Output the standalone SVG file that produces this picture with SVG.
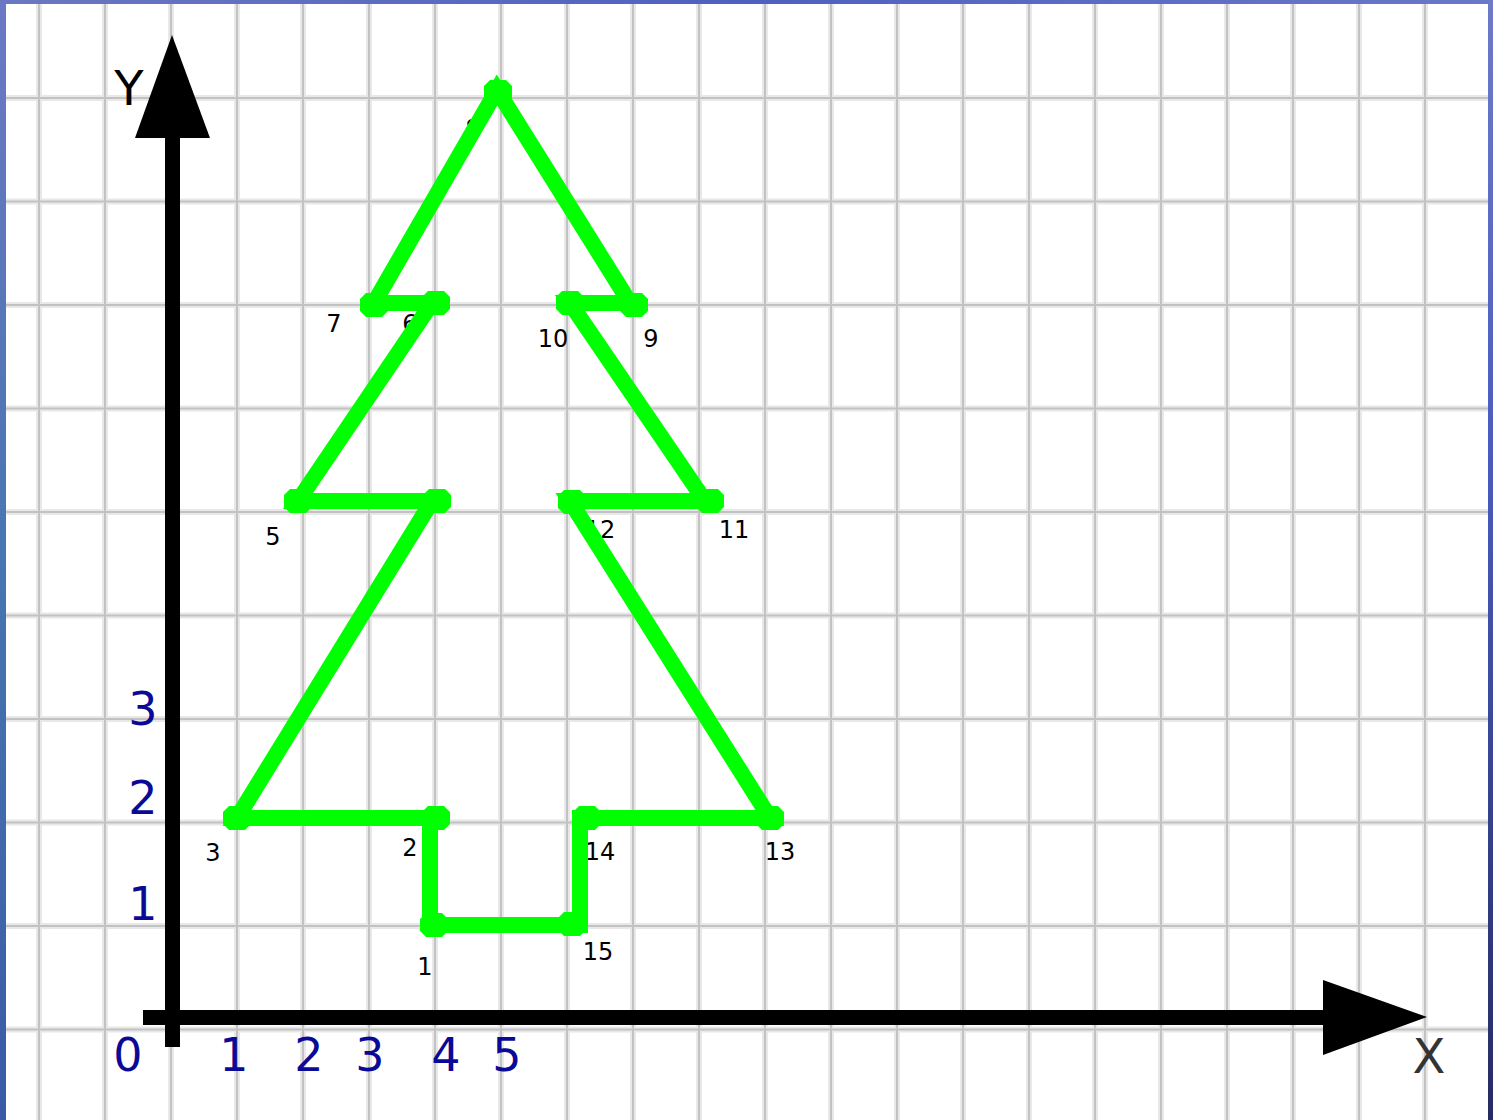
<svg xmlns="http://www.w3.org/2000/svg" width="1493" height="1120" viewBox="0 0 1493 1120">
<style>
.gh{stroke:#e8e8e8;stroke-width:6}
.gc{stroke:#c2c2c2;stroke-width:2}
.ax{fill:#000}
.num{font-family:"DejaVu Sans",Verdana,sans-serif;font-size:46px;fill:#0a0a96;text-anchor:middle}
.lab{font-family:"DejaVu Sans",Verdana,sans-serif;font-size:24px;fill:#000;text-anchor:middle}
.axl{font-family:"DejaVu Sans",Verdana,sans-serif;font-size:48px;text-anchor:middle}
.tree{fill:none;stroke:#00ff00;stroke-width:16;stroke-linejoin:miter;stroke-linecap:butt}
.v{fill:#00ff00}
</style>
<defs>
<linearGradient id="lb" x1="0" y1="0" x2="0" y2="1">
<stop offset="0" stop-color="#6c78c4"/><stop offset="0.5" stop-color="#4776b0"/><stop offset="1" stop-color="#3a5aa6"/>
</linearGradient>
<linearGradient id="rb" x1="0" y1="0" x2="0" y2="1">
<stop offset="0" stop-color="#6e7ac8"/><stop offset="0.4" stop-color="#4a5cc0"/><stop offset="1" stop-color="#252b62"/>
</linearGradient>
<linearGradient id="tb" x1="0" y1="0" x2="1" y2="0">
<stop offset="0" stop-color="#6a78c0"/><stop offset="0.5" stop-color="#5060c0"/><stop offset="1" stop-color="#6a78c8"/>
</linearGradient>
<polygon id="oct" points="-14,-6 -8,-12 8,-12 14,-6 14,6 8,12 -8,12 -14,6"/>
</defs>
<g id="background">
<rect x="0" y="0" width="1493" height="1120" fill="url(#tb)"/>
<rect x="0" y="0" width="7" height="1120" fill="url(#lb)"/>
<rect x="1487" y="0" width="6" height="1120" fill="url(#rb)"/>
<rect x="6" y="4" width="1482" height="1116" fill="#ffffff"/>
</g>
<g id="grid">
<g class="gh">
<path d="M39 4V1120M105 4V1120M171 4V1120M237 4V1120M303 4V1120M369 4V1120M435 4V1120M501 4V1120M567 4V1120M633 4V1120M699 4V1120M765 4V1120M831 4V1120M897 4V1120M963 4V1120M1029 4V1120M1095 4V1120M1161 4V1120M1227 4V1120M1293 4V1120M1359 4V1120M1425 4V1120"/>
<path d="M6 98H1488M6 201.5H1488M6 305H1488M6 408.5H1488M6 512H1488M6 615.5H1488M6 719H1488M6 822.5H1488M6 926H1488M6 1029.5H1488"/>
</g>
<g class="gc">
<path d="M39 4V1120M105 4V1120M171 4V1120M237 4V1120M303 4V1120M369 4V1120M435 4V1120M501 4V1120M567 4V1120M633 4V1120M699 4V1120M765 4V1120M831 4V1120M897 4V1120M963 4V1120M1029 4V1120M1095 4V1120M1161 4V1120M1227 4V1120M1293 4V1120M1359 4V1120M1425 4V1120"/>
<path d="M6 98H1488M6 201.5H1488M6 305H1488M6 408.5H1488M6 512H1488M6 615.5H1488M6 719H1488M6 822.5H1488M6 926H1488M6 1029.5H1488"/>
</g>
</g>
<g id="axes">
<g id="y-axis">
<rect class="ax" x="165" y="130" width="15" height="917"/>
<polygon class="ax" points="172,35 135,138 210,138"/>
<text class="axl" x="129" y="105" fill="#000">Y</text>
</g>
<g id="x-axis">
<rect class="ax" x="143" y="1010" width="1187" height="15"/>
<polygon class="ax" points="1323,980 1427,1017 1323,1055"/>
<text class="axl" x="1429" y="1073" fill="#333">X</text>
</g>
<g id="tick-labels">
<text class="num" x="128" y="1071">0</text>
<text class="num" x="234" y="1071">1</text>
<text class="num" x="309" y="1071">2</text>
<text class="num" x="370" y="1071">3</text>
<text class="num" x="446" y="1071">4</text>
<text class="num" x="507" y="1071">5</text>
<text class="num" x="143" y="920">1</text>
<text class="num" x="143" y="814">2</text>
<text class="num" x="143" y="725">3</text>
</g>
</g>
<g id="point-labels">
<text class="lab" x="425" y="975">1</text>
<text class="lab" x="410" y="856">2</text>
<text class="lab" x="213" y="861">3</text>
<text class="lab" x="273" y="545">5</text>
<text class="lab" x="410" y="332">6</text>
<text class="lab" x="334" y="332">7</text>
<text class="lab" x="473" y="137">8</text>
<text class="lab" x="651" y="347">9</text>
<text class="lab" x="553" y="347">10</text>
<text class="lab" x="734" y="538">11</text>
<text class="lab" x="600" y="538">12</text>
<text class="lab" x="780" y="860">13</text>
<text class="lab" x="600" y="860">14</text>
<text class="lab" x="598" y="960">15</text>
</g>
<g id="tree">
<path class="tree" d="M430 925V818H237L432 501H298L432 303H374L497 90L630 303H570L705 501H570L770 818H580V925Z"/>
<g class="v">
<use href="#oct" x="434" y="925"/>
<use href="#oct" x="436" y="818"/>
<use href="#oct" x="237" y="818"/>
<use href="#oct" x="437" y="501"/>
<use href="#oct" x="298" y="501"/>
<use href="#oct" x="436" y="303"/>
<use href="#oct" x="374" y="305"/>
<use href="#oct" x="498" y="92"/>
<use href="#oct" x="634" y="305"/>
<use href="#oct" x="570" y="303"/>
<use href="#oct" x="710" y="501"/>
<use href="#oct" x="572" y="502"/>
<use href="#oct" x="770" y="818"/>
<use href="#oct" x="587" y="818"/>
<use href="#oct" x="572" y="924"/>
</g>
</g>
</svg>
